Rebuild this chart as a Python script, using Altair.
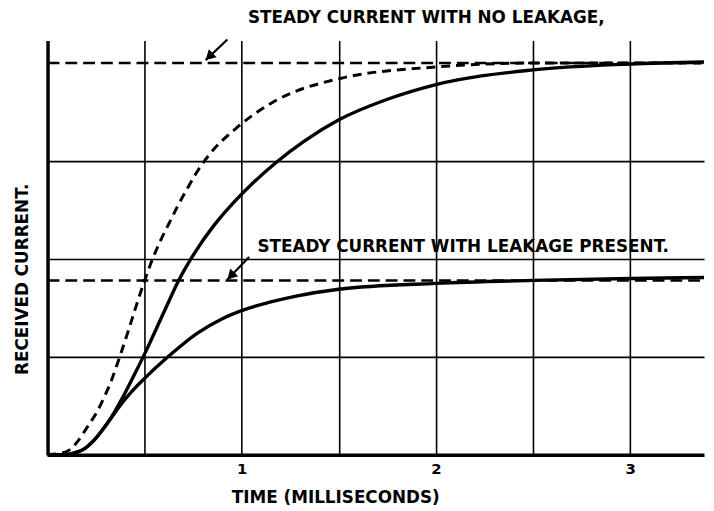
import altair as alt
import pandas as pd
import math

FONT = "DejaVu Sans"

# Transient curves (time in ms, current in grid units)
dash_t = [0, 0.08, 0.12, 0.16, 0.21, 0.255, 0.29, 0.325, 0.356, 0.38, 0.41, 0.45, 0.50, 0.535,
          0.58, 0.63, 0.67, 0.72, 0.77, 0.835, 0.975, 1.16, 1.5, 2.0, 2.5, 3.0, 3.38]
dash_i = [0, 0.02, 0.06, 0.15, 0.30, 0.44, 0.58, 0.74, 0.91, 1.05, 1.23, 1.48, 1.78, 1.97,
          2.18, 2.38, 2.54, 2.72, 2.89, 3.07, 3.34, 3.60, 3.84, 3.96, 4.0, 4.0, 4.0]

noleak_t = [0, 0.08, 0.14, 0.18, 0.24, 0.30, 0.34, 0.38, 0.45, 0.50, 0.60, 0.67, 0.76, 0.86,
            0.96, 1.06, 1.18, 1.32, 1.5, 1.75, 2.0, 2.5, 3.0, 3.38]
noleak_i = [0, 0.0, 0.02, 0.05, 0.15, 0.30, 0.42, 0.56, 0.83, 1.03, 1.46, 1.76, 2.07, 2.35,
            2.58, 2.78, 2.99, 3.20, 3.42, 3.63, 3.78, 3.93, 3.99, 4.01]

leak_t = [0, 0.08, 0.14, 0.18, 0.24, 0.30, 0.38, 0.44, 0.51, 0.62, 0.77, 0.90, 1.01, 1.15,
          1.28, 1.5, 2.0, 2.5, 3.0, 3.38]
leak_i = [0, 0.0, 0.02, 0.05, 0.15, 0.30, 0.52, 0.66, 0.80, 1.0, 1.24, 1.39, 1.48, 1.56,
          1.62, 1.69, 1.75, 1.78, 1.80, 1.81]

# Steady levels
steady_levels = [4.0, 1.78]
x_max = 3.38
y_max = 4.23

# Annotations
labels = ["STEADY CURRENT WITH NO LEAKAGE,", "STEADY CURRENT WITH LEAKAGE PRESENT."]
label_x = [1.95, 2.14]
label_y = [4.46, 2.12]
arrow_x0 = [0.926, 1.038]
arrow_y0 = [4.24, 2.02]
arrow_x1 = [0.814, 0.926]
arrow_y1 = [4.03, 1.79]
arrow_angle = [46, 44]

x_grid = [0.5, 1, 1.5, 2, 2.5, 3]
y_grid = [1, 2, 3]

W, H = 664, 419
xs = alt.Scale(domain=[0, x_max], nice=False, zero=False)
ys = alt.Scale(domain=[0, y_max], nice=False, zero=False)

# arrowhead centres: pulled back ~5 px from the tip along the arrow
back = 5.0
head_x = [x1 + back * math.sin(math.radians(a)) * x_max / W for x1, a in zip(arrow_x1, arrow_angle)]
head_y = [y1 + back * math.cos(math.radians(a)) * y_max / H for y1, a in zip(arrow_y1, arrow_angle)]

x_axis = alt.Axis(values=x_grid, labelExpr="datum.value % 1 == 0 ? format(datum.value, 'd') : ''",
                  ticks=False, grid=True, gridColor="black", gridWidth=1.6, gridOpacity=1,
                  domainColor="black", domainWidth=3.5, labelFont=FONT, labelFontWeight="bold",
                  labelFontSize=15, labelColor="black", labelPadding=7,
                  title="TIME (MILLISECONDS)", titleFont=FONT, titleFontWeight="bold",
                  titleFontSize=17, titleColor="black", titleX=291, titleY=43,
                  titleBaseline="middle", titleAnchor="middle", titleAlign="center")
y_axis = alt.Axis(values=y_grid, labels=False, ticks=False, grid=True, gridColor="black",
                  gridWidth=1.6, gridOpacity=1, domainColor="black", domainWidth=3.5,
                  title="RECEIVED CURRENT.", titleFont=FONT, titleFontWeight="bold",
                  titleFontSize=17, titleColor="black", titleX=-25, titleY=241,
                  titleBaseline="middle", titleAlign="center")

df_dash = pd.DataFrame({"t": dash_t, "i": dash_i})
df_noleak = pd.DataFrame({"t": noleak_t, "i": noleak_i})
df_leak = pd.DataFrame({"t": leak_t, "i": leak_i})
df_steady = pd.DataFrame({"x0": [0] * len(steady_levels), "x1": [x_max] * len(steady_levels),
                          "y": steady_levels})
df_lab = pd.DataFrame({"x": label_x, "y": label_y, "text": labels})
df_arrow = pd.DataFrame({"x0": arrow_x0, "y0": arrow_y0, "x1": arrow_x1, "y1": arrow_y1,
                         "hx": head_x, "hy": head_y, "angle": arrow_angle})

base_axes = alt.Chart(df_noleak).mark_line(opacity=0).encode(
    x=alt.X("t:Q", scale=xs, axis=x_axis),
    y=alt.Y("i:Q", scale=ys, axis=y_axis),
)

steady = alt.Chart(df_steady).mark_rule(color="black", strokeWidth=2.6, strokeDash=[12, 6]).encode(
    x=alt.X("x0:Q", scale=xs), x2="x1:Q", y=alt.Y("y:Q", scale=ys)
)

dash_curve = alt.Chart(df_dash).mark_line(color="black", strokeWidth=3, strokeDash=[9, 6],
                                          interpolate="monotone").encode(
    x=alt.X("t:Q", scale=xs), y=alt.Y("i:Q", scale=ys)
)
noleak_curve = alt.Chart(df_noleak).mark_line(color="black", strokeWidth=3.4,
                                              interpolate="monotone").encode(
    x=alt.X("t:Q", scale=xs), y=alt.Y("i:Q", scale=ys)
)
leak_curve = alt.Chart(df_leak).mark_line(color="black", strokeWidth=3.4,
                                          interpolate="monotone").encode(
    x=alt.X("t:Q", scale=xs), y=alt.Y("i:Q", scale=ys)
)

arrow_lines = alt.Chart(df_arrow).mark_rule(color="black", strokeWidth=2.2).encode(
    x=alt.X("x0:Q", scale=xs), y=alt.Y("y0:Q", scale=ys), x2="x1:Q", y2="y1:Q"
)
arrow_heads = alt.Chart(df_arrow).mark_point(
    shape="triangle-down", filled=True, color="black", size=130, opacity=1
).encode(
    x=alt.X("hx:Q", scale=xs), y=alt.Y("hy:Q", scale=ys), angle=alt.Angle("angle:Q", scale=None)
)

texts = alt.Chart(df_lab).mark_text(font=FONT, fontWeight="bold", fontSize=17, color="black",
                                    align="center", baseline="middle").encode(
    x=alt.X("x:Q", scale=xs), y=alt.Y("y:Q", scale=ys), text="text:N"
)

chart = alt.layer(base_axes, steady, dash_curve, noleak_curve, leak_curve, arrow_lines,
                  arrow_heads, texts).properties(
    width=W, height=H, autosize="none",
    padding={"left": 40, "top": 30, "right": 2, "bottom": 54},
    background="white",
).configure_view(strokeWidth=0)

chart.save("out.html", embed_options={"renderer": "svg", "actions": False})
